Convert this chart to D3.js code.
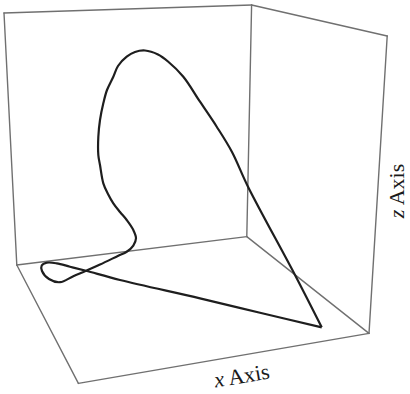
<!DOCTYPE html>
<html>
<head>
<meta charset="utf-8">
<script src="https://cdn.jsdelivr.net/npm/d3@7"></script>
<style>
  html, body { margin: 0; padding: 0; background: #fff; }
  svg { display: block; }
  .axis-label { font-family: "Liberation Serif", "DejaVu Serif", serif; font-size: 22px; fill: #1a1a1a; }
</style>
</head>
<body>
<svg id="chart" width="410" height="394"></svg>
<script>
// Projected view coordinates (u to the right, v downward) of the bounding box corners.
const boxCorners = [
  { id: "leftTop",   u: 0.0,   v: 2.0  },
  { id: "backTop",   u: 61.9,  v: 0.0  },
  { id: "rightTop",  u: 95.8,  v: 7.75 },
  { id: "left",      u: 3.2,   v: 65.0 },
  { id: "back",      u: 60.7,  v: 57.9 },
  { id: "right",     u: 91.25, v: 82.1 },
  { id: "front",     u: 18.6,  v: 94.6 }
];

// Visible edges of the box: two back walls and the floor.
const boxEdges = [
  ["leftTop", "backTop"], ["backTop", "rightTop"],
  ["leftTop", "left"], ["backTop", "back"], ["rightTop", "right"],
  ["left", "back"], ["back", "right"],
  ["left", "front"], ["front", "right"]
];

// Projected space curve, traced as one closed loop starting and ending at its corner.
const curveU = [
  79.43, 72.75, 61.0, 57.0, 53.18, 49.0, 44.83, 41.0, 38.5, 35.25,
  32.75, 30.68, 28.5, 27.33, 25.75, 24.83, 24.0, 23.58, 23.58, 24.0,
  24.83, 26.0, 27.33, 29.0, 30.68, 32.33, 33.0, 32.33, 30.68, 28.58,
  24.0, 20.5, 17.33, 14.0, 11.25, 9.5, 9.43, 10.68, 13.18, 16.5,
  20.5, 29.0, 49.0, 64.0, 79.43
];
const curveV = [
  80.58, 67.5, 45.43, 36.75, 30.43, 24.18, 17.93, 14.13, 12.38, 11.38,
  11.75, 12.93, 15.25, 17.93, 21.25, 24.58, 28.75, 33.0, 37.5, 40.0,
  44.58, 47.25, 49.58, 51.75, 53.75, 56.25, 58.33, 60.13, 61.68, 62.68,
  64.88, 66.45, 67.8, 69.3, 68.5, 66.5, 65.13, 64.43, 64.58, 65.43,
  66.45, 68.75, 73.33, 76.93, 80.58
];

const axisTitles = { x: "x", z: "z", suffix: " Axis" };

const svg = d3.select("#chart");
const W = 410, H = 394;

const uScale = d3.scaleLinear().domain([0, 96]).range([4, 388]);
const vScale = d3.scaleLinear().domain([0, 95]).range([5, 385]);

svg.append("rect").attr("width", W).attr("height", H).attr("fill", "#fff");

const cornerById = new Map(boxCorners.map(d => [d.id, d]));

svg.append("g")
  .selectAll("line")
  .data(boxEdges)
  .join("line")
  .attr("x1", d => uScale(cornerById.get(d[0]).u))
  .attr("y1", d => vScale(cornerById.get(d[0]).v))
  .attr("x2", d => uScale(cornerById.get(d[1]).u))
  .attr("y2", d => vScale(cornerById.get(d[1]).v))
  .attr("stroke", "#707070")
  .attr("stroke-width", 1.4)
  .attr("stroke-linecap", "round");

const curvePoints = curveU.map((u, i) => [u, curveV[i]]);

const lineGen = d3.line()
  .x(d => uScale(d[0]))
  .y(d => vScale(d[1]))
  .curve(d3.curveCatmullRom.alpha(0.5));

svg.append("path")
  .datum(curvePoints)
  .attr("d", lineGen)
  .attr("fill", "none")
  .attr("stroke", "#1e1e1e")
  .attr("stroke-width", 2.2)
  .attr("stroke-linejoin", "miter");

// Axis titles
const xLab = svg.append("text")
  .attr("class", "axis-label")
  .attr("text-anchor", "middle")
  .attr("transform", "translate(243,383) rotate(-9.5)");
xLab.append("tspan").attr("font-style", "italic").text(axisTitles.x);
xLab.append("tspan").text(axisTitles.suffix);

const zLab = svg.append("text")
  .attr("class", "axis-label")
  .attr("text-anchor", "middle")
  .attr("transform", "translate(404,191) rotate(-90)");
zLab.append("tspan").attr("font-style", "italic").text(axisTitles.z);
zLab.append("tspan").text(axisTitles.suffix);
</script>
</body>
</html>
